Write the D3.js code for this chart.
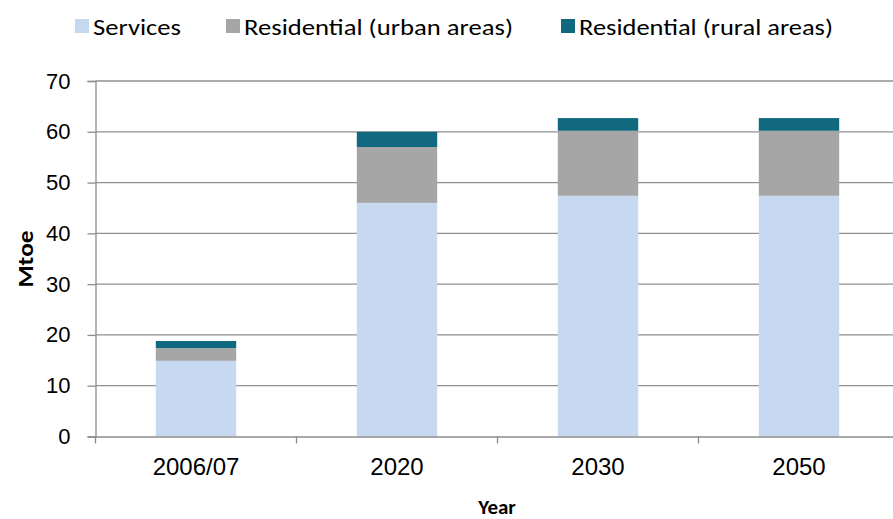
<!DOCTYPE html>
<html><head><meta charset="utf-8">
<script src="https://cdn.jsdelivr.net/npm/d3@7"></script>
<style>
body{margin:0;background:#fff;}
svg{display:block;font-family:Carlito,"Open Sans","Liberation Sans",sans-serif;}
</style></head>
<body><svg id="c" width="893" height="519"></svg>
<script>
const categories = ["2006/07","2020","2030","2050"];
const services = [14.9, 46.0, 47.4, 47.4];
const urban = [2.5, 11.0, 12.8, 12.8];
const rural = [1.4, 3.0, 2.5, 2.5];
const seriesNames = ["Services","Residential (urban areas)","Residential (rural areas)"];
const colors = ["#c6d9f1","#a6a6a6","#10697f"];
const yTicks = [0,10,20,30,40,50,60,70];

const svg = d3.select("#c");
const pLeft = 95.5, pRight = 899.5, pTop = 81, pBottom = 436.5;
const x = d3.scaleBand().domain(categories).range([pLeft,pRight]).paddingInner(0.6).paddingOuter(0.3);
const xb = d3.scaleBand().domain(categories).range([pLeft,pRight]);
const y = d3.scaleLinear().domain([0,70]).range([pBottom,pTop]);

// gridlines
svg.append("g").selectAll("line").data(yTicks.filter(d=>d>0)).join("line")
  .attr("x1",pLeft).attr("x2",893).attr("y1",d=>y(d)).attr("y2",d=>y(d))
  .attr("stroke","#909090").attr("stroke-width",1.3);

const rows = categories.map((c,i)=>({cat:c, s0:services[i], s1:urban[i], s2:rural[i]}));
const stack = d3.stack().keys(["s0","s1","s2"])(rows);
svg.append("g").selectAll("g").data(stack).join("g").attr("fill",(d,i)=>colors[i])
  .selectAll("rect").data(d=>d).join("rect")
  .attr("x",d=>x(d.data.cat)).attr("width",x.bandwidth())
  .attr("y",d=>y(d[1])).attr("height",d=>y(d[0])-y(d[1]));

// y axis
const ya = svg.append("g").attr("transform",`translate(${pLeft},0)`)
  .call(d3.axisLeft(y).tickValues(yTicks).tickSize(8).tickPadding(17));
ya.select(".domain").attr("stroke","#8c8c8c").attr("stroke-width",1.3);
ya.selectAll(".tick line").attr("stroke","#8c8c8c").attr("stroke-width",1.3);
ya.selectAll("text").attr("font-size",22).attr("fill","#000").attr("font-family","inherit");

// x axis
const xa = svg.append("g").attr("transform",`translate(0,${pBottom})`)
  .call(d3.axisBottom(xb).tickSize(0).tickPadding(21));
xa.select(".domain").attr("stroke","#8c8c8c").attr("stroke-width",1.3);
xa.selectAll("text").attr("font-size",24).attr("fill","#000").attr("font-family","inherit");
svg.append("g").selectAll("line").data(categories).join("line")
  .attr("x1",d=>xb(d)).attr("x2",d=>xb(d)).attr("y1",pBottom).attr("y2",pBottom+7)
  .attr("stroke","#8c8c8c").attr("stroke-width",1.3);

// axis titles
svg.append("text").attr("transform","translate(33,259) rotate(-90)").attr("text-anchor","middle")
  .attr("font-size",22).attr("font-weight","bold")
  .attr("textLength",57).attr("lengthAdjust","spacingAndGlyphs").text("Mtoe");
svg.append("text").attr("x",497).attr("y",514).attr("text-anchor","middle")
  .attr("font-size",21).attr("font-weight","bold").text("Year");

// legend
const legX = [75, 226, 561];
const legW = [88, 269, 254];
const lg = svg.append("g").selectAll("g").data(seriesNames).join("g")
  .attr("transform",(d,i)=>`translate(${legX[i]},0)`);
lg.append("rect").attr("x",0).attr("y",19).attr("width",14).attr("height",14).attr("fill",(d,i)=>colors[i]);
lg.append("text").attr("x",18).attr("y",35).attr("font-size",22)
  .attr("textLength",(d,i)=>legW[i]).attr("lengthAdjust","spacingAndGlyphs").text(d=>d);
</script></body></html>
